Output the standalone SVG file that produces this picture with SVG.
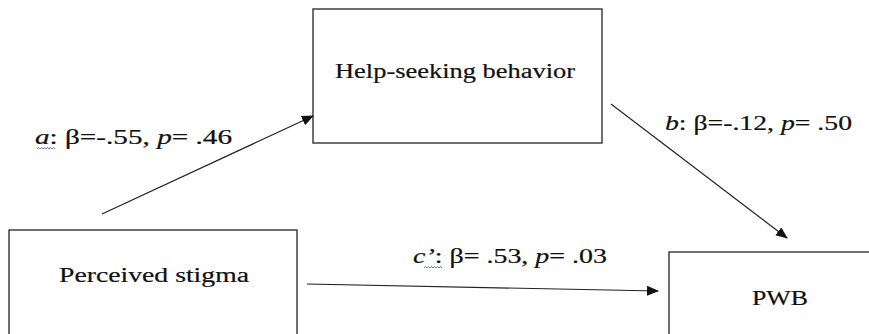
<svg xmlns="http://www.w3.org/2000/svg" width="869" height="334" viewBox="0 0 869 334">
<style>
.box{fill:#fff;stroke:#222;stroke-width:1.3}
.t{font-family:"Liberation Serif","Times New Roman",serif;font-size:20px;fill:#111;stroke:#111;stroke-width:0.2}
.ln{stroke:#222;stroke-width:1.2;fill:none}
.sq{stroke:#4a6fd0;stroke-width:0.9;fill:none}
</style>
<defs>
<marker id="ah" markerWidth="12" markerHeight="10" refX="11" refY="5" orient="auto" markerUnits="userSpaceOnUse">
<path d="M0,0 L12,5 L0,10 Z" fill="#111"/>
</marker>
</defs>
<rect width="869" height="334" fill="#fff"/>
<g id="help">
<rect class="box" x="313" y="9" width="289" height="134"/>
<text class="t" x="335" y="78" textLength="240" lengthAdjust="spacingAndGlyphs">Help-seeking behavior</text>
</g>
<g id="stigma">
<rect class="box" x="9" y="230" width="288" height="110"/>
<text class="t" x="59" y="282" textLength="190" lengthAdjust="spacingAndGlyphs">Perceived stigma</text>
</g>
<g id="pwb">
<rect class="box" x="669" y="252" width="210" height="90"/>
<text class="t" x="752" y="305" textLength="56" lengthAdjust="spacingAndGlyphs">PWB</text>
</g>
<g id="connectors">
<line class="ln" x1="102" y1="214" x2="313" y2="116" marker-end="url(#ah)"/>
<line class="ln" x1="611" y1="104" x2="787" y2="238" marker-end="url(#ah)"/>
<line class="ln" x1="307" y1="284" x2="658" y2="291" marker-end="url(#ah)"/>
<text class="t" x="35" y="144" textLength="197" lengthAdjust="spacingAndGlyphs"><tspan font-style="italic">a</tspan>: β=-.55, <tspan font-style="italic">p</tspan>= .46</text>
<text class="t" x="665" y="130" textLength="187" lengthAdjust="spacingAndGlyphs"><tspan font-style="italic">b</tspan>: β=-.12, <tspan font-style="italic">p</tspan>= .50</text>
<text class="t" x="413" y="263" textLength="194" lengthAdjust="spacingAndGlyphs"><tspan font-style="italic">c’</tspan>: β= .53, <tspan font-style="italic">p</tspan>= .03</text>
<path class="sq" d="M37,149 l1.5,-1.5 l1.5,1.5 l1.5,-1.5 l1.5,1.5 l1.5,-1.5 l1.5,1.5 l1.5,-1.5 l1.5,1.5 l1.5,-1.5 l1.5,1.5 l1.5,-1.5 l1.5,1.5"/>
<path class="sq" d="M424,268 l1.5,-1.5 l1.5,1.5 l1.5,-1.5 l1.5,1.5 l1.5,-1.5 l1.5,1.5 l1.5,-1.5 l1.5,1.5 l1.5,-1.5 l1.5,1.5 l1.5,-1.5 l1.5,1.5"/>
</g>
</svg>
